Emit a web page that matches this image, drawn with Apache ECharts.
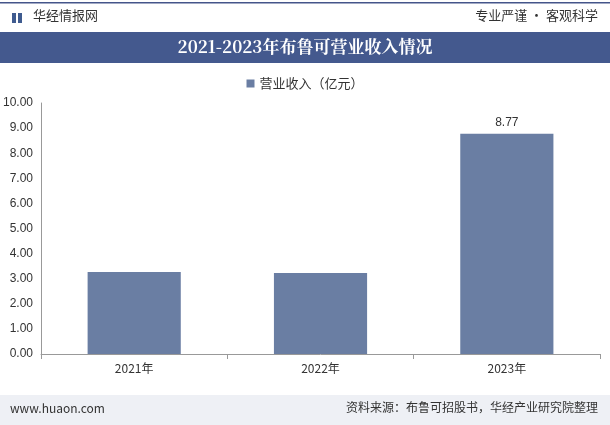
<!DOCTYPE html><html><head><meta charset="utf-8"><script src="https://cdn.jsdelivr.net/npm/echarts@6/dist/echarts.min.js"></script>
<style>body{margin:0}#c{width:610px;height:425px}</style></head><body><div id="c"></div><script>
const categories=['2021年','2022年','2023年'];
const revenue=[3.27,3.23,8.77];
const seriesName='营业收入（亿元）';
const c=echarts.init(document.getElementById('c'));
const F='"Noto Sans CJK SC",sans-serif';
c.setOption({
animation:false,backgroundColor:'#fff',
graphic:[
{type:'rect',shape:{x:0,y:2,width:610,height:1.5},style:{fill:'#44558a'}},
{type:'rect',shape:{x:12,y:13,width:4,height:10},style:{fill:'#3f5b8f'}},
{type:'rect',shape:{x:18,y:13,width:4,height:10},style:{fill:'#3f5b8f'}},
{type:'text',left:33,top:9,style:{text:'华经情报网',font:'13px '+F,fill:'#333'}},
{type:'text',right:12,top:9,style:{text:'专业严谨 • 客观科学',font:'13px '+F,fill:'#333'}},
{type:'rect',shape:{x:0,y:32,width:610,height:31},style:{fill:'#44598e'}},
{type:'text',left:'center',top:38,style:{text:'2021-2023年布鲁可营业收入情况',font:'bold 17px "Noto Serif CJK SC","Noto Sans CJK SC",serif',fill:'#fff'}},
{type:'rect',shape:{x:0,y:395,width:610,height:30},style:{fill:'#eef0f5'}},
{type:'text',left:10,top:402,style:{text:'www.huaon.com',font:'12px '+F,fill:'#333'}},
{type:'text',right:12,top:401,style:{text:'资料来源：布鲁可招股书，华经产业研究院整理',font:'12px '+F,fill:'#333'}}
],
legend:{top:72,left:'center',itemWidth:8,itemHeight:8,icon:'rect',textStyle:{fontFamily:F,fontSize:13,color:'#333'},itemGap:4},
grid:{left:40,right:10,top:103,bottom:71},
xAxis:{type:'category',data:categories,axisTick:{show:true,alignWithLabel:false},axisLine:{lineStyle:{color:'#999'}},axisLabel:{color:'#333',fontSize:12,fontFamily:F}},
yAxis:{type:'value',min:0,max:10,interval:1,axisLine:{show:true,lineStyle:{color:'#999'}},splitLine:{show:false},axisLabel:{color:'#333',fontSize:12,formatter:v=>v.toFixed(2)}},
series:[{name:seriesName,type:'bar',data:revenue,barWidth:'50%',itemStyle:{color:'#6a7ea3'},label:{show:true,position:'top',formatter:p=>p.value===8.77?'8.77':'',color:'#333',fontSize:12}}]
});
</script></body></html>
